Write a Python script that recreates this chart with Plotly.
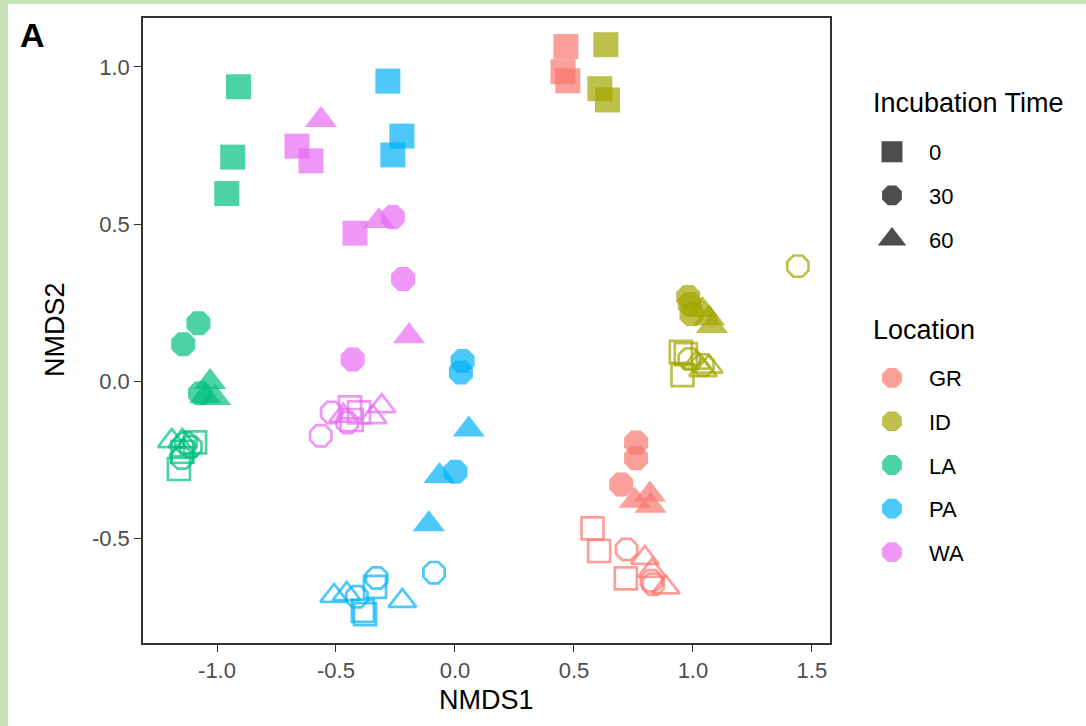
import plotly.graph_objects as go

# ---------------- data ----------------
locations = ["GR", "ID", "LA", "PA", "WA"]
location_colors = ["#F8766D", "#A3A500", "#00BF7D", "#00B0F6", "#E76BF3"]
legend_location_colors = ["#FA9F99", "#BFC04C", "#4CD2A4", "#4CC8F9", "#EE97F7"]
incubation_times = ["0", "30", "60"]
point_time = ["0", "0", "0", "30", "30", "30", "60", "60", "60"]

GR_filled_x = [0.466, 0.454, 0.474, 0.761, 0.761, 0.699, 0.819, 0.756, 0.822]
GR_filled_y = [1.065, 0.985, 0.956, -0.196, -0.246, -0.329, -0.361, -0.381, -0.397]
GR_open_x = [0.578, 0.606, 0.718, 0.721, 0.826, 0.833, 0.798, 0.828, 0.886]
GR_open_y = [-0.469, -0.541, -0.628, -0.536, -0.636, -0.647, -0.563, -0.604, -0.657]

ID_filled_x = [0.634, 0.609, 0.641, 0.980, 0.987, 0.994, 1.040, 1.068, 1.080]
ID_filled_y = [1.071, 0.931, 0.895, 0.268, 0.245, 0.213, 0.226, 0.200, 0.175]
ID_open_x = [0.949, 0.956, 0.970, 1.441, 0.985, 1.042, 1.067, 1.015, 1.042]
ID_open_y = [0.093, 0.019, 0.086, 0.366, 0.070, 0.051, 0.046, 0.059, 0.035]

LA_filled_x = [-0.910, -0.934, -0.959, -1.078, -1.142, -1.071, -1.029, -1.008, -1.050]
LA_filled_y = [0.937, 0.713, 0.597, 0.184, 0.117, -0.039, -0.003, -0.054, -0.048]
LA_open_x = [-1.160, -1.092, -1.145, -1.148, -1.131, -1.110, -1.146, -1.190, -1.141]
LA_open_y = [-0.280, -0.195, -0.225, -0.245, -0.198, -0.209, -0.191, -0.191, -0.220]

PA_filled_x = [-0.282, -0.223, -0.261, 0.032, 0.025, 0.002, 0.058, -0.065, -0.110]
PA_filled_y = [0.955, 0.780, 0.720, 0.064, 0.027, -0.289, -0.154, -0.302, -0.456]
PA_open_x = [-0.336, -0.378, -0.387, -0.088, -0.329, -0.412, -0.508, -0.455, -0.221]
PA_open_y = [-0.655, -0.742, -0.732, -0.610, -0.627, -0.687, -0.684, -0.678, -0.700]

WA_filled_x = [-0.664, -0.605, -0.420, -0.261, -0.218, -0.430, -0.563, -0.193, -0.320]
WA_filled_y = [0.748, 0.701, 0.471, 0.522, 0.325, 0.069, 0.831, 0.143, 0.510]
WA_open_x = [-0.441, -0.434, -0.403, -0.564, -0.518, -0.452, -0.308, -0.345, -0.470]
WA_open_y = [-0.084, -0.124, -0.100, -0.174, -0.100, -0.132, -0.080, -0.115, -0.110]

x_tick_vals = [-1.0, -0.5, 0.0, 0.5, 1.0, 1.5]
x_tick_text = ["-1.0", "-0.5", "0.0", "0.5", "1.0", "1.5"]
y_tick_vals = [-0.5, 0.0, 0.5, 1.0]
y_tick_text = ["-0.5", "0.0", "0.5", "1.0"]

series = {
    "GR": (GR_filled_x, GR_filled_y, GR_open_x, GR_open_y),
    "ID": (ID_filled_x, ID_filled_y, ID_open_x, ID_open_y),
    "LA": (LA_filled_x, LA_filled_y, LA_open_x, LA_open_y),
    "PA": (PA_filled_x, PA_filled_y, PA_open_x, PA_open_y),
    "WA": (WA_filled_x, WA_filled_y, WA_open_x, WA_open_y),
}

# ---------------- styles ----------------
FONT = "Liberation Sans, Arial, sans-serif"
filled_symbol = {"0": "square", "30": "octagon", "60": "triangle-up"}
filled_size = {"0": 25, "30": 26, "60": 28}
open_symbol = {"0": "square-open", "30": "octagon-open", "60": "triangle-up-open"}
open_size = {"0": 22, "30": 23, "60": 24}


def rgba(hexc, a):
    h = hexc.lstrip("#")
    return "rgba(%d,%d,%d,%.2f)" % (int(h[0:2], 16), int(h[2:4], 16), int(h[4:6], 16), a)


fig = go.Figure()

for loc, col in zip(locations, location_colors):
    fx, fy, ox, oy = series[loc]
    c = rgba(col, 0.7)
    for t in incubation_times:
        idx = [i for i, pt in enumerate(point_time) if pt == t]
        fig.add_trace(go.Scatter(
            x=[fx[i] for i in idx], y=[fy[i] for i in idx], mode="markers",
            showlegend=False, hoverinfo="x+y",
            marker=dict(symbol=filled_symbol[t], size=filled_size[t], color=c,
                        line=dict(width=0))))
        fig.add_trace(go.Scatter(
            x=[ox[i] for i in idx], y=[oy[i] for i in idx], mode="markers",
            showlegend=False, hoverinfo="x+y",
            marker=dict(symbol=open_symbol[t], size=open_size[t], color=c,
                        line=dict(width=2.7, color=c))))

# legend entries: incubation time
for t in incubation_times:
    fig.add_trace(go.Scatter(
        x=[None], y=[None], mode="markers", name=t, legend="legend",
        legendgroup="time" + t,
        marker=dict(symbol=filled_symbol[t], size=16, color="#4D4D4D",
                    line=dict(width=5, color="#4D4D4D"))))

# legend entries: location
for loc, lc in zip(locations, legend_location_colors):
    fig.add_trace(go.Scatter(
        x=[None], y=[None], mode="markers", name=loc, legend="legend2",
        legendgroup="loc" + loc,
        marker=dict(symbol="octagon", size=16, color=lc,
                    line=dict(width=5, color=lc))))

W, H = 1086, 726
L, R, T, B = 143, 1086 - 830, 18, 726 - 643
PW, PH = W - L - R, H - T - B


def px(xp):
    return (xp - L) / PW


def py(yp):
    return (H - B - yp) / PH


axis_common = dict(
    showgrid=False, zeroline=False, showline=True, linecolor="#333333",
    linewidth=1.6, mirror=True, ticks="outside", ticklen=7, tickwidth=1.3,
    tickcolor="#333333", tickfont=dict(family=FONT, size=22, color="#4D4D4D"),
)

legend_common = dict(
    xref="container", yref="container", xanchor="left", yanchor="top",
    bgcolor="rgba(0,0,0,0)", font=dict(family=FONT, size=22, color="#000000"),
    itemwidth=64, tracegroupgap=12, traceorder="grouped", itemclick=False,
)

fig.update_layout(
    width=W, height=H,
    margin=dict(l=L, r=R, t=T, b=B, autoexpand=False),
    paper_bgcolor="#CAE3B6", plot_bgcolor="#FFFFFF",
    font=dict(family=FONT, color="#000000"),
    xaxis=dict(range=[-1.311, 1.576], tickvals=x_tick_vals, ticktext=x_tick_text,
               **axis_common),
    yaxis=dict(range=[-0.834, 1.156], tickvals=y_tick_vals, ticktext=y_tick_text,
               **axis_common),
    legend=dict(x=855 / W, y=1 - 131 / H, **legend_common),
    legend2=dict(x=855 / W, y=1 - 357 / H, **legend_common),
    shapes=[dict(type="rect", xref="paper", yref="paper", layer="below",
                 x0=px(8), x1=px(1100), y0=py(740), y1=py(4),
                 fillcolor="#FFFFFF", line=dict(width=0))],
    annotations=[
        dict(text="<b>A</b>", xref="paper", yref="paper", x=px(32), y=py(35),
             showarrow=False, font=dict(family=FONT, size=34, color="#000000"),
             xanchor="center", yanchor="middle"),
        dict(text="NMDS1", xref="paper", yref="paper", x=px(486), y=py(700),
             showarrow=False, font=dict(family=FONT, size=27, color="#000000"),
             xanchor="center", yanchor="middle"),
        dict(text="NMDS2", xref="paper", yref="paper", x=px(55), y=py(330),
             showarrow=False, textangle=-90,
             font=dict(family=FONT, size=27, color="#000000"),
             xanchor="center", yanchor="middle"),
        dict(text="Incubation Time", xref="paper", yref="paper", x=px(871), y=py(103),
             showarrow=False, font=dict(family=FONT, size=27, color="#000000"),
             xanchor="left", yanchor="middle"),
        dict(text="Location", xref="paper", yref="paper", x=px(871), y=py(330),
             showarrow=False, font=dict(family=FONT, size=27, color="#000000"),
             xanchor="left", yanchor="middle"),
    ],
)

fig.write_html("out.html",
               config={"displayModeBar": False},
               post_script="document.body.style.margin='0';document.body.style.overflow='hidden';")
